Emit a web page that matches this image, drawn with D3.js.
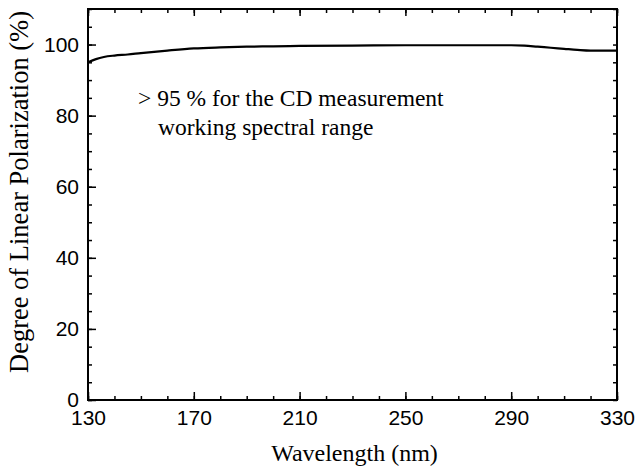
<!DOCTYPE html>
<html>
<head>
<meta charset="utf-8">
<script src="https://cdn.jsdelivr.net/npm/d3@7"></script>
<style>
  body { margin: 0; background: #fff; }
  svg { display: block; }
</style>
</head>
<body>
<svg width="640" height="474"></svg>
<script>
'use strict';

// data
var wavelength = [130, 133, 136, 140, 145, 150, 160, 170, 180, 190, 200, 210, 230, 250, 270, 290, 295, 300, 305, 310, 315, 320, 325, 330];
var polarization = [95.0, 95.9, 96.5, 96.9, 97.2, 97.6, 98.3, 98.9, 99.2, 99.4, 99.5, 99.6, 99.7, 99.8, 99.8, 99.8, 99.7, 99.4, 99.1, 98.8, 98.5, 98.3, 98.3, 98.3];
var xTicks = [130, 170, 210, 250, 290, 330];
var yTicks = [0, 20, 40, 60, 80, 100];
var noteLines = ['> 95 % for the CD measurement', 'working spectral range'];

var svg = d3.select('svg');
var margin = { top: 9, right: 23, bottom: 74, left: 88 };
var width = 640, height = 474;
var innerWidth = width - margin.left - margin.right;
var innerHeight = height - margin.top - margin.bottom;
var sans = "'Liberation Sans', Arial, sans-serif";
var serif = "'Liberation Serif', 'Times New Roman', serif";

var xScale = d3.scaleLinear().domain([130, 330]).range([0, innerWidth]);
var yScale = d3.scaleLinear().domain([0, 110]).range([innerHeight, 0]);

var inner = svg.append('g').attr('transform', 'translate(' + margin.left + ',' + margin.top + ')');

var xMinor = d3.range(130, 331, 10);
var yMinor = d3.range(0, 111, 5);

function styleAxis(g) {
  g.select('.domain').remove();
  g.selectAll('.tick line').attr('stroke', '#000').attr('stroke-width', 1.5);
  g.attr('font-family', sans).attr('font-size', 21);
  g.selectAll('.tick text').attr('fill', '#000');
}

function ticksOnly(g) {
  styleAxis(g);
  g.selectAll('.tick text').remove();
}

// minor ticks, all four sides
inner.append('g').attr('transform', 'translate(0,' + innerHeight + ')')
  .call(d3.axisBottom(xScale).tickValues(xMinor).tickSize(-4))
  .call(ticksOnly);
inner.append('g')
  .call(d3.axisTop(xScale).tickValues(xMinor).tickSize(-4))
  .call(ticksOnly);
inner.append('g')
  .call(d3.axisLeft(yScale).tickValues(yMinor).tickSize(-4))
  .call(ticksOnly);
inner.append('g').attr('transform', 'translate(' + innerWidth + ',0)')
  .call(d3.axisRight(yScale).tickValues(yMinor).tickSize(-4))
  .call(ticksOnly);

// major ticks
inner.append('g').attr('transform', 'translate(0,' + innerHeight + ')')
  .call(d3.axisBottom(xScale).tickValues(xTicks).tickSize(-8).tickPadding(10))
  .call(styleAxis);
inner.append('g')
  .call(d3.axisTop(xScale).tickValues(xTicks).tickSize(-7))
  .call(ticksOnly);

inner.append('g')
  .call(d3.axisLeft(yScale).tickValues(yTicks).tickSize(-8).tickPadding(9))
  .call(styleAxis);

// frame
inner.append('rect')
  .attr('x', 0).attr('y', 0)
  .attr('width', innerWidth).attr('height', innerHeight)
  .attr('fill', 'none').attr('stroke', '#000').attr('stroke-width', 2);

// curve
var line = d3.line()
  .x(function (d, i) { return xScale(wavelength[i]); })
  .y(function (d) { return yScale(d); })
  .curve(d3.curveMonotoneX);

inner.append('path')
  .datum(polarization)
  .attr('d', line)
  .attr('fill', 'none')
  .attr('stroke', '#000')
  .attr('stroke-width', 2.2);

// annotation
inner.append('text').attr('font-family', serif).attr('font-size', 23.5)
  .attr('x', 50).attr('y', 97).text(noteLines[0]);
inner.append('text').attr('font-family', serif).attr('font-size', 23.5)
  .attr('x', 70).attr('y', 126).text(noteLines[1]);

// axis titles
svg.append('text').attr('font-family', serif)
  .attr('x', margin.left + innerWidth / 2 + 2).attr('y', 461)
  .attr('text-anchor', 'middle').attr('font-size', 24)
  .text('Wavelength (nm)');

svg.append('text').attr('font-family', serif)
  .attr('transform', 'translate(28,' + 192 + ') rotate(-90)')
  .attr('text-anchor', 'middle').attr('font-size', 26.5)
  .text('Degree of Linear Polarization (%)');
</script>
</body>
</html>
